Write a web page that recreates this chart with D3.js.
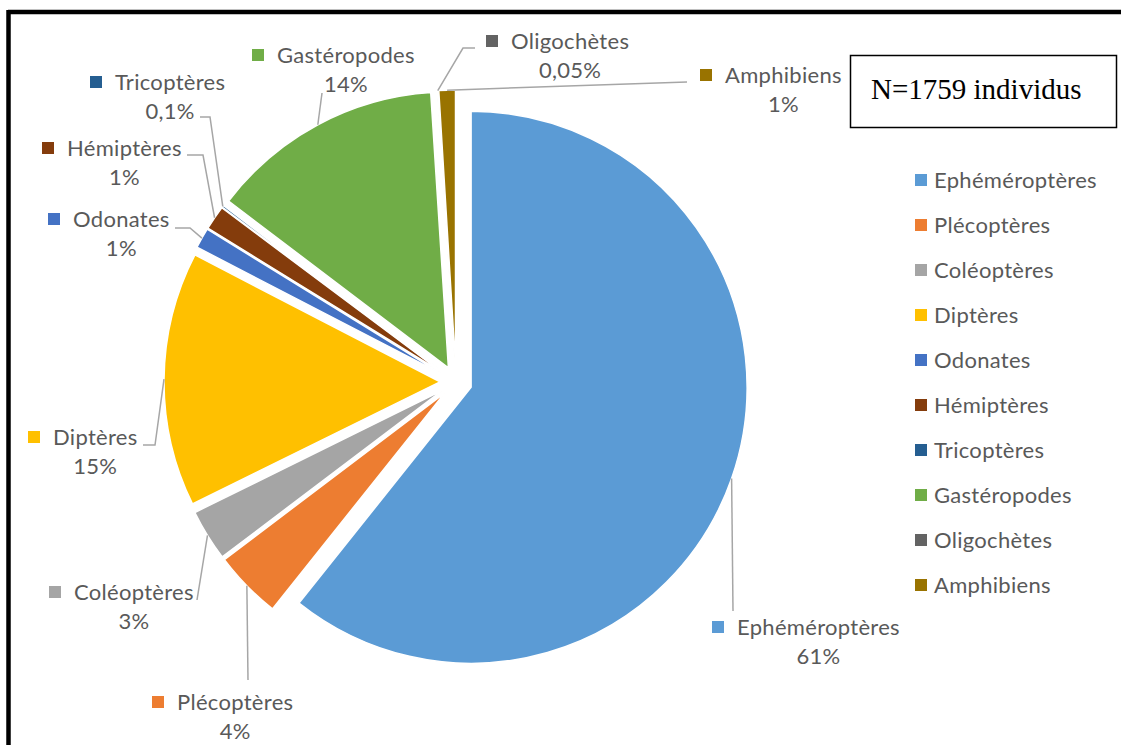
<!DOCTYPE html>
<html>
<head>
<meta charset="utf-8">
<script src="https://cdn.jsdelivr.net/npm/d3@7"></script>
<style>
  html, body { margin: 0; padding: 0; background: #fff; }
  svg { display: block; }
  .lbl { font-family: Lato, "Open Sans", sans-serif; font-size: 22px; letter-spacing: 0.3px; fill: #595959; }
</style>
</head>
<body>
<svg id="chart" width="1121" height="745"></svg>
<script>
// data
const groups = ["Ephéméroptères", "Plécoptères", "Coléoptères", "Diptères", "Odonates",
	"Hémiptères", "Tricoptères", "Gastéropodes", "Oligochètes", "Amphibiens"];
const counts = [1068, 70, 53, 262, 21, 25, 2, 240, 1, 17];
const pctLabels = ["61%", "4%", "3%", "15%", "1%", "1%", "0,1%", "14%", "0,05%", "1%"];
const colors = ["#5B9BD5", "#ED7D31", "#A5A5A5", "#FFC000", "#4472C4",
	"#843C0C", "#255E91", "#70AD47", "#636363", "#997300"];
const totalN = 1759;

// label layout (square left, first baseline, leader points on the label side)
const labelLayout = {
	"Ephéméroptères": { sx: 712, by: 635, pts: [[733, 611]] },
	"Plécoptères":    { sx: 152, by: 710, pts: [[248, 680]] },
	"Coléoptères":    { sx: 49,  by: 600, pts: [[197, 600]] },
	"Diptères":       { sx: 28,  by: 445, pts: [[143, 445], [155, 445]] },
	"Odonates":       { sx: 48,  by: 227, pts: [[175, 228], [190, 228]] },
	"Hémiptères":     { sx: 42,  by: 156, pts: [[187, 155], [203, 155]] },
	"Tricoptères":    { sx: 90,  by: 90,  pts: [[200, 117], [210, 117]] },
	"Gastéropodes":   { sx: 252, by: 63,  pts: [[322, 93]] },
	"Oligochètes":    { sx: 486, by: 49,  pts: [[475, 48], [463, 48]] },
	"Amphibiens":     { sx: 700, by: 83,  pts: [[687, 82]] }
};

const svg = d3.select("#chart");

// frame
svg.append("line").attr("x1", 8).attr("x2", 1121).attr("y1", 12).attr("y2", 12)
	.attr("stroke", "#000").attr("stroke-width", 4.5);
svg.append("line").attr("x1", 8.5).attr("x2", 8.5).attr("y1", 10).attr("y2", 745)
	.attr("stroke", "#000").attr("stroke-width", 4.5);

const cx = 456, cy = 382, radius = 276, explode = 16;

const data = groups.map((g, i) => ({ name: g, value: counts[i], pct: pctLabels[i], color: colors[i] }));

const pie = d3.pie().sort(null).value(d => d.value);
const arc = d3.arc().innerRadius(0).outerRadius(radius);
const arcs = pie(data);

const g = svg.append("g").attr("transform", `translate(${cx},${cy})`);

const dirOf = a => [Math.sin(a), -Math.cos(a)];

g.selectAll("path.slice")
	.data(arcs)
	.join("path")
	.attr("class", "slice")
	.attr("transform", d => {
		const m = (d.startAngle + d.endAngle) / 2;
		const [dx, dy] = dirOf(m);
		return `translate(${dx * explode},${dy * explode})`;
	})
	.attr("d", arc)
	.attr("fill", d => d.data.color)
	.attr("stroke", "#fff")
	.attr("stroke-width", 1.5);

// leader lines
const line = d3.line();
arcs.forEach(d => {
	const m = (d.startAngle + d.endAngle) / 2;
	const [dx, dy] = dirOf(m);
	const p = [cx + dx * (explode + radius), cy + dy * (explode + radius)];
	const lay = labelLayout[d.data.name];
	const pts = lay.pts.concat([p]);
	svg.append("path")
		.attr("d", line(pts))
		.attr("fill", "none")
		.attr("stroke", "#A6A6A6")
		.attr("stroke-width", 1.5);
});

// data labels
arcs.forEach(d => {
	const lay = labelLayout[d.data.name];
	const lg = svg.append("g");
	lg.append("rect")
		.attr("x", lay.sx).attr("y", lay.by - 14)
		.attr("width", 12).attr("height", 12)
		.attr("fill", d.data.color);
	const t = lg.append("text")
		.attr("class", "lbl")
		.attr("x", lay.sx + 25).attr("y", lay.by)
		.text(d.data.name);
	const w = t.node().getComputedTextLength();
	lg.append("text")
		.attr("class", "lbl")
		.attr("x", lay.sx + 25 + w / 2).attr("y", lay.by + 29)
		.attr("text-anchor", "middle")
		.text(d.data.pct);
});

// legend
const legend = svg.append("g").attr("transform", "translate(915,180)");
const item = legend.selectAll("g")
	.data(data)
	.join("g")
	.attr("transform", (d, i) => `translate(0,${i * 45})`);
item.append("rect")
	.attr("x", 0).attr("y", -6)
	.attr("width", 12).attr("height", 12)
	.attr("fill", d => d.color);
item.append("text")
	.attr("class", "lbl")
	.attr("x", 19).attr("y", 8)
	.text(d => d.name);

// N box
svg.append("rect")
	.attr("x", 850.5).attr("y", 55.5)
	.attr("width", 266).attr("height", 72)
	.attr("fill", "#fff")
	.attr("stroke", "#000")
	.attr("stroke-width", 1.5);
svg.append("text")
	.attr("x", 871).attr("y", 99)
	.style("font-family", "'Liberation Serif', 'Times New Roman', serif")
	.style("font-size", "29px")
	.attr("fill", "#000")
	.text(`N=${totalN} individus`);
</script>
</body>
</html>
